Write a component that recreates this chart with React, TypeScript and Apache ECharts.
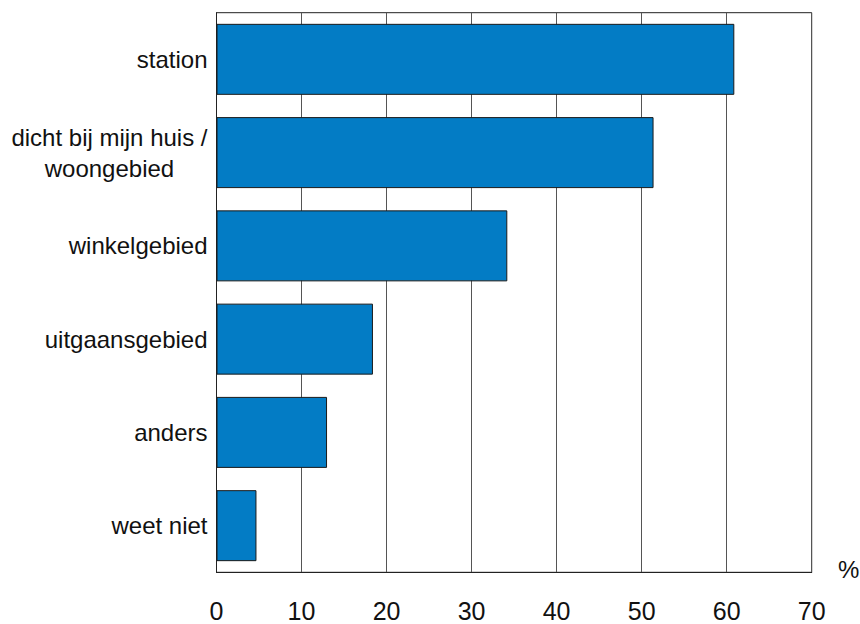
import React, { useEffect, useRef } from "react";
import * as echarts from "echarts";

const categories = [
  "station",
  "dicht bij mijn huis /\nwoongebied",
  "winkelgebied",
  "uitgaansgebied",
  "anders",
  "weet niet",
];
const values = [60.9, 51.4, 34.2, 18.4, 13.0, 4.7];
const axisMin = 0;
const axisMax = 70;
const axisStep = 10;
const unitLabel = "%";

const FONT = "Liberation Sans, Arial, sans-serif";

export default function App() {
  const ref = useRef<HTMLDivElement>(null);
  useEffect(() => {
    if (!ref.current) return;
    const chart = echarts.init(ref.current, undefined, { renderer: "svg" });
    chart.setOption({
      animation: false,
      backgroundColor: "#ffffff",
      grid: {
        left: 216.5,
        right: 48.3,
        top: 12.7,
        bottom: 51.7,
        show: true,
        borderColor: "#222",
        borderWidth: 1,
        backgroundColor: "transparent",
      },
      xAxis: {
        type: "value",
        min: axisMin,
        max: axisMax,
        interval: axisStep,
        axisLine: { show: true, lineStyle: { color: "#222", width: 1 } },
        axisTick: { show: false },
        splitLine: { show: true, lineStyle: { color: "#555", width: 1 } },
        axisLabel: {
          fontSize: 25,
          color: "#111",
          fontFamily: FONT,
          margin: 26,
        },
      },
      yAxis: {
        type: "category",
        inverse: true,
        data: categories,
        axisLine: { show: true, lineStyle: { color: "#222", width: 1 } },
        axisTick: { show: false },
        splitLine: { show: false },
        axisLabel: {
          margin: 9,
          color: "#111",
          fontSize: 24,
          fontFamily: FONT,
          formatter: (v: string) =>
            v
              .split("\n")
              .map((l) => `{c|${l}}`)
              .join("\n"),
          rich: {
            c: {
              align: "center",
              fontSize: 24,
              lineHeight: 31,
              fontFamily: FONT,
              color: "#111",
            },
          },
        },
      },
      series: [
        {
          type: "bar",
          data: values,
          barWidth: 71,
          itemStyle: {
            color: "#037CC5",
            borderColor: "#1a1a1a",
            borderWidth: 1,
          },
        },
      ],
      graphic: [
        {
          type: "text",
          left: 838,
          top: 557,
          style: {
            text: unitLabel,
            fontSize: 24,
            fontFamily: FONT,
            fill: "#111",
          },
        },
      ],
    });
    return () => chart.dispose();
  }, []);
  return (
    <div
      ref={ref}
      style={{ position: "absolute", left: 0, top: 0, width: 860, height: 624 }}
    />
  );
}
